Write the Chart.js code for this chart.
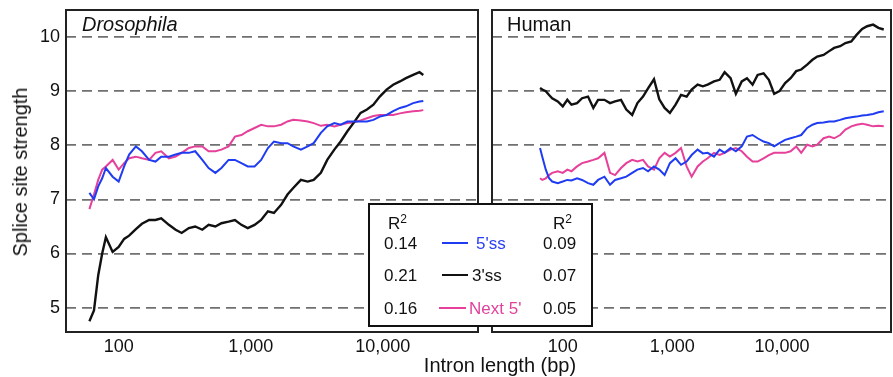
<!DOCTYPE html>
<html>
<head>
<meta charset="utf-8">
<script src="https://cdn.jsdelivr.net/npm/chart.js@4.4.1/dist/chart.umd.min.js"></script>
<style>
  body { margin: 0; background: #fff; font-family: "Liberation Sans", Arial, sans-serif; color: #111; }
  #wrap { position: relative; width: 893px; height: 377px; overflow: hidden; }
  canvas { position: absolute; top: 0; }
  .txt { position: absolute; white-space: nowrap; line-height: 1; }
  #legend { position: absolute; left: 368px; top: 203px; width: 225px; height: 124px;
            box-sizing: border-box; border: 2px solid #111; background: #fff; font-size: 17px; }
  #legend .cell { position: absolute; white-space: nowrap; line-height: 1; transform: translateY(-50%); }
  #legend .swatch { position: absolute; height: 2px; }
  sup { font-size: 12px; vertical-align: 6px; line-height: 0; }
</style>
</head>
<body>
<div id="wrap">
  <canvas id="flyChart" width="480" height="365" style="left:0"></canvas>
  <canvas id="humanChart" width="411" height="365" style="left:482px"></canvas>
  <div class="txt" style="left:82px; top:14px; font-size:20px; font-style:italic">Drosophila</div>
  <div class="txt" style="left:507px; top:14px; font-size:20px">Human</div>
  <div class="txt" style="left:20px; top:172px; font-size:20px; transform:translate(-50%,-50%) rotate(-90deg)">Splice site strength</div>
  <div class="txt" style="left:500px; top:365px; font-size:20px; transform:translate(-50%,-50%)">Intron length (bp)</div>
  <div id="legend"></div>
</div>
<script>
// intron length sample points (bp)
const flyX = [60, 65, 70, 75, 80, 90, 100, 110, 120, 135, 150, 170, 190, 210, 240, 270, 300, 340, 380, 430,
  480, 540, 600, 680, 760, 850, 950, 1070, 1200, 1350, 1500, 1700, 1900, 2100, 2400, 2700, 3000, 3400, 3800, 4300,
  4800, 5400, 6000, 6800, 7600, 8500, 9500, 10700, 12000, 13500, 15000, 17000, 19000, 20300];

const fly5ss = [7.12, 7.00, 7.24, 7.39, 7.58, 7.42, 7.33, 7.61, 7.83, 7.98, 7.89, 7.73, 7.70, 7.79, 7.79, 7.83, 7.86, 7.86, 7.89, 7.73,
  7.58, 7.49, 7.58, 7.73, 7.73, 7.67, 7.61, 7.61, 7.73, 7.95, 8.07, 8.04, 8.04, 7.98, 7.92, 7.98, 8.04, 8.23, 8.35, 8.41,
  8.38, 8.44, 8.44, 8.44, 8.44, 8.47, 8.53, 8.56, 8.63, 8.69, 8.72, 8.78, 8.81, 8.82];

const fly3ss = [4.75, 4.95, 5.60, 6.00, 6.30, 6.03, 6.12, 6.27, 6.33, 6.45, 6.55, 6.62, 6.62, 6.65, 6.53, 6.44, 6.38, 6.47, 6.50, 6.44,
  6.53, 6.50, 6.56, 6.59, 6.62, 6.53, 6.47, 6.53, 6.62, 6.78, 6.75, 6.90, 7.09, 7.21, 7.36, 7.33, 7.36, 7.49, 7.73, 7.92,
  8.07, 8.26, 8.41, 8.60, 8.66, 8.75, 8.90, 9.03, 9.12, 9.18, 9.24, 9.30, 9.35, 9.30];

const flyNext5 = [6.82, 7.09, 7.36, 7.55, 7.61, 7.73, 7.55, 7.67, 7.76, 7.79, 7.76, 7.73, 7.86, 7.89, 7.76, 7.79, 7.86, 7.95, 7.98, 7.98,
  7.89, 7.89, 7.92, 7.98, 8.16, 8.19, 8.26, 8.32, 8.38, 8.35, 8.35, 8.38, 8.44, 8.47, 8.46, 8.44, 8.41, 8.36, 8.38, 8.35,
  8.38, 8.41, 8.42, 8.46, 8.50, 8.54, 8.56, 8.56, 8.56, 8.59, 8.61, 8.63, 8.64, 8.65];

const humanX = [62, 65, 70, 75, 80, 90, 100, 110, 120, 135, 150, 170, 190, 210, 240, 270, 300, 340, 380, 430,
  480, 540, 600, 680, 760, 850, 950, 1070, 1200, 1350, 1500, 1700, 1900, 2100, 2400, 2700, 3000, 3400, 3800, 4300,
  4800, 5400, 6000, 6800, 7600, 8500, 9500, 10700, 12000, 13500, 15000, 17000, 19000, 21000, 24000, 27000, 30000, 34000, 38000, 43000,
  48000, 54000, 60000, 68000, 76000, 85000];

const human5ss = [7.95, 7.79, 7.55, 7.39, 7.33, 7.30, 7.33, 7.36, 7.35, 7.39, 7.36, 7.30, 7.27, 7.36, 7.42, 7.27, 7.36, 7.39, 7.42, 7.49,
  7.55, 7.58, 7.52, 7.61, 7.55, 7.45, 7.67, 7.76, 7.64, 7.70, 7.82, 7.92, 7.85, 7.86, 7.79, 7.92, 7.86, 7.95, 7.89, 7.98,
  8.16, 8.19, 8.13, 8.07, 8.04, 7.98, 8.04, 8.10, 8.13, 8.16, 8.19, 8.32, 8.38, 8.41, 8.42, 8.44, 8.44, 8.47, 8.50, 8.52,
  8.53, 8.55, 8.56, 8.58, 8.61, 8.63];

const human3ss = [9.06, 9.03, 9.00, 8.93, 8.87, 8.81, 8.72, 8.84, 8.75, 8.78, 8.87, 8.90, 8.69, 8.84, 8.84, 8.78, 8.81, 8.84, 8.66, 8.56,
  8.78, 8.90, 9.05, 9.22, 8.85, 8.69, 8.60, 8.75, 8.93, 8.90, 9.03, 9.12, 9.09, 9.12, 9.18, 9.21, 9.35, 9.24, 8.95, 9.18,
  9.24, 9.12, 9.30, 9.33, 9.21, 8.95, 9.00, 9.15, 9.24, 9.37, 9.40, 9.49, 9.58, 9.64, 9.67, 9.74, 9.80, 9.83, 9.89, 9.92,
  10.04, 10.15, 10.20, 10.23, 10.17, 10.14];

const humanNext5 = [7.39, 7.36, 7.39, 7.45, 7.49, 7.52, 7.49, 7.55, 7.52, 7.61, 7.67, 7.70, 7.73, 7.76, 7.86, 7.49, 7.45, 7.58, 7.67, 7.73,
  7.70, 7.73, 7.61, 7.55, 7.76, 7.86, 7.79, 7.86, 7.95, 7.61, 7.42, 7.61, 7.70, 7.76, 7.86, 7.82, 7.86, 7.92, 7.95, 7.89,
  7.79, 7.70, 7.70, 7.76, 7.82, 7.86, 7.86, 7.86, 7.89, 7.98, 7.86, 8.01, 7.98, 8.01, 8.13, 8.16, 8.13, 8.19, 8.29, 8.35,
  8.38, 8.40, 8.38, 8.35, 8.36, 8.35];

const xTicks = [100, 1000, 10000];
const yTicks = [5, 6, 7, 8, 9, 10];

const seriesNames = ["5'ss", "3'ss", "Next 5'"];
const flyR2 = ['0.14', '0.21', '0.16'];
const humanR2 = ['0.09', '0.07', '0.05'];

const BLUE = '#1f3cf2';
const BLACK = '#111111';
const PINK = '#e6409a';
const colors = [BLUE, BLACK, PINK];
const textColors = ['#2a3ff5', '#111111', '#e0439b'];

const framePlugin = {
  id: 'frame',
  afterDatasetsDraw(chart) {
    const { ctx, chartArea: a } = chart;
    ctx.save();
    ctx.strokeStyle = '#222';
    ctx.lineWidth = 2;
    ctx.strokeRect(a.left, a.top, a.right - a.left, a.bottom - a.top);
    ctx.restore();
  }
};

function pairs(xs, ys) {
  return xs.map((x, i) => ({ x: x, y: ys[i] }));
}

// drop the label overflow padding chart.js adds, so layout.padding alone sets the plot box
function noPad(s) {
  s.paddingTop = 0;
  s.paddingBottom = 0;
  s.paddingLeft = 0;
  s.paddingRight = 0;
}

function makeChart(canvasId, xs, series, xMin, xMax, showY, padding) {
  const datasets = series.map((ys, i) => ({
    label: seriesNames[i],
    data: pairs(xs, ys),
    borderColor: colors[i],
    borderWidth: i === 1 ? 2.4 : 2,
    pointRadius: 0,
    tension: 0,
    fill: false
  }));

  return new Chart(document.getElementById(canvasId), {
    type: 'line',
    data: { datasets: datasets },
    options: {
      responsive: false,
      animation: false,
      events: [],
      layout: { padding: padding },
      plugins: { legend: { display: false }, tooltip: { enabled: false } },
      scales: {
        x: {
          type: 'logarithmic',
          min: xMin,
          max: xMax,
          afterBuildTicks: s => { s.ticks = xTicks.map(v => ({ value: v })); },
          afterFit: s => { s.height = 33; noPad(s); },
          grid: { display: false, drawTicks: false },
          border: { display: false },
          ticks: {
            padding: 4,
            maxRotation: 0,
            autoSkip: false,
            color: '#111',
            font: { family: '"Liberation Sans", Arial, sans-serif', size: 18 },
            callback: v => Number(v).toLocaleString('en-US')
          }
        },
        y: {
          type: 'linear',
          min: 4.55,
          max: 10.5,
          afterBuildTicks: s => { s.ticks = yTicks.map(v => ({ value: v })); },
          afterFit: s => { s.width = showY ? 66 : 0; noPad(s); },
          grid: { color: '#707070', lineWidth: 1.8, drawTicks: false },
          border: { display: false, dash: [10, 6] },
          ticks: {
            display: showY,
            padding: 6,
            color: '#111',
            font: { family: '"Liberation Sans", Arial, sans-serif', size: 18 }
          }
        }
      }
    },
    plugins: [framePlugin]
  });
}

makeChart('flyChart', flyX, [fly5ss, fly3ss, flyNext5], 39.9, 52700, true, { top: 10, right: 2, left: 0, bottom: 0 });
makeChart('humanChart', humanX, [human5ss, human3ss, humanNext5], 22.6, 99000, false, { top: 10, right: 2, left: 10, bottom: 0 });

// legend box with R² values for both panels
const legend = document.getElementById('legend');
const boxLeft = 368, boxTop = 203;
const rowY = [243, 275, 308];
const swatchX = [441.7, 441.7, 439.3];
const labelX = [476, 472, 469];

function addCell(html, x, y, color) {
  const d = document.createElement('div');
  d.className = 'cell';
  d.style.left = (x - boxLeft - 2) + 'px';
  d.style.top = (y - boxTop - 2) + 'px';
  d.style.color = color;
  d.innerHTML = html;
  legend.appendChild(d);
}

addCell('R<sup>2</sup>', 388, 223, '#111');
addCell('R<sup>2</sup>', 553, 223, '#111');
seriesNames.forEach((name, i) => {
  addCell(flyR2[i], 384, rowY[i], '#111');
  addCell(humanR2[i], 543, rowY[i], '#111');
  addCell(name, labelX[i], rowY[i], textColors[i]);
  const sw = document.createElement('div');
  sw.className = 'swatch';
  sw.style.left = (swatchX[i] - boxLeft - 2) + 'px';
  sw.style.top = (rowY[i] - 1 - boxTop - 2) + 'px';
  sw.style.width = '26.6px';
  sw.style.background = colors[i];
  legend.appendChild(sw);
});
</script>
</body>
</html>
